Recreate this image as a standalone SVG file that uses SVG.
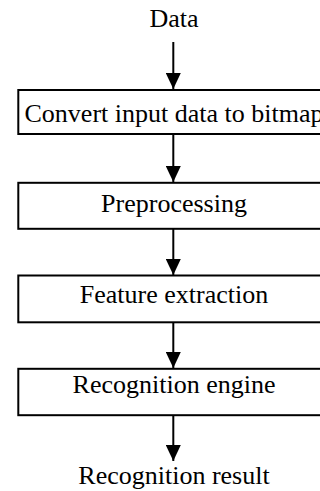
<svg xmlns="http://www.w3.org/2000/svg" width="320" height="491" viewBox="0 0 320 491">
<style>
.box{fill:#fff;stroke:#000;stroke-width:2}
.t{font-family:"Liberation Serif","Times New Roman",serif;font-size:26px;fill:#000;text-anchor:middle}
.c{stroke:#000;stroke-width:2;fill:none}
</style>
<defs>
<marker id="ah" markerUnits="userSpaceOnUse" markerWidth="16" markerHeight="15" refX="16" refY="7.5" orient="auto">
<path d="M0,0 L16,7.5 L0,15 Z" fill="#000"/>
</marker>
</defs>
<rect width="320" height="491" fill="#fff"/>
<g id="connectors">
<line class="c" x1="173.3" y1="42" x2="173.3" y2="89" marker-end="url(#ah)"/>
<line class="c" x1="173.3" y1="134" x2="173.3" y2="182" marker-end="url(#ah)"/>
<line class="c" x1="173.3" y1="229" x2="173.3" y2="275" marker-end="url(#ah)"/>
<line class="c" x1="173.3" y1="322" x2="173.3" y2="368" marker-end="url(#ah)"/>
<line class="c" x1="173.3" y1="415" x2="173.3" y2="461" marker-end="url(#ah)"/>
</g>
<g id="data"><text class="t" x="174" y="26.5">Data</text></g>
<g id="convert"><rect class="box" x="18.3" y="90" width="312" height="44"/><text class="t" x="174" y="121.5">Convert input data to bitmap</text></g>
<g id="preprocessing"><rect class="box" x="18.3" y="182.8" width="312" height="46"/><text class="t" x="174" y="211.5">Preprocessing</text></g>
<g id="feature"><rect class="box" x="18.3" y="275.5" width="312" height="46.8"/><text class="t" x="174" y="302.5">Feature extraction</text></g>
<g id="engine"><rect class="box" x="18.3" y="368.8" width="312" height="46.4"/><text class="t" x="174" y="393">Recognition engine</text></g>
<g id="result"><text class="t" x="174" y="484">Recognition result</text></g>
</svg>
